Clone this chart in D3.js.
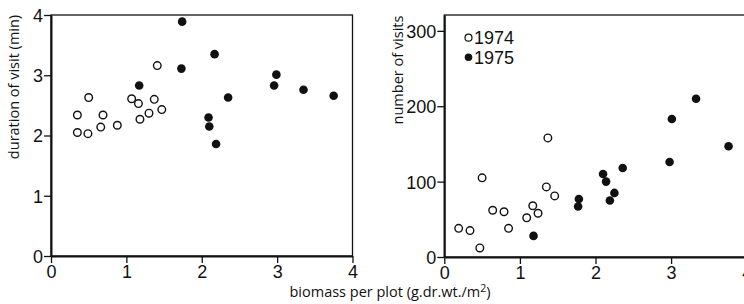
<!DOCTYPE html>
<html><head><meta charset="utf-8">
<script src="https://cdn.jsdelivr.net/npm/d3@7"></script>
<style>
body{margin:0;background:#fff;}
svg{display:block;}
.tick text{font-family:"Liberation Sans",Arial,sans-serif;font-size:18px;fill:#111;}
.title{font-family:"Open Sans","DejaVu Sans",sans-serif;font-size:14.5px;fill:#111;}
</style></head>
<body>
<script>
// Duration of visit (min) vs biomass
const dur1974_x = [0.35,0.35,0.50,0.49,0.69,0.66,0.88,1.07,1.16,1.18,1.30,1.37,1.47,1.41];
const dur1974_y = [2.34,2.05,2.63,2.03,2.34,2.14,2.17,2.61,2.53,2.27,2.37,2.60,2.43,3.16];
const dur1975_x = [1.17,1.74,1.73,2.17,2.09,2.10,2.19,2.35,2.96,2.99,3.35,3.75];
const dur1975_y = [2.83,3.89,3.11,3.35,2.30,2.15,1.86,2.63,2.83,3.01,2.76,2.66];
// Number of visits vs biomass
const vis1974_x = [0.19,0.34,0.47,0.50,0.64,0.79,0.85,1.09,1.17,1.24,1.35,1.37,1.46];
const vis1974_y = [38,35,12,105,62,60,38,52,68,58,93,158,81];
const vis1975_x = [1.18,1.78,1.77,2.10,2.14,2.25,2.19,2.36,2.98,3.01,3.33,3.76];
const vis1975_y = [28,77,67,110,100,85,75,118,126,183,210,147];

const xTicks = [0,1,2,3,4];
const durTicks = [0,1,2,3,4];
const visTicks = [0,100,200,300];
const legendLabels = ["1974","1975"];

const W = 744, H = 304;
const svg = d3.select("body").append("svg").attr("width",W).attr("height",H);
const ink = "#111";

function panel(cfg){
  const x = d3.scaleLinear().domain([0,4]).range([cfg.x0,cfg.x1]);
  const y = d3.scaleLinear().domain(cfg.ydom).range([cfg.y0,cfg.y1]);
  const g = svg.append("g");
  g.append("rect").attr("x",cfg.x0).attr("y",cfg.y1)
    .attr("width",cfg.x1-cfg.x0).attr("height",cfg.y0-cfg.y1)
    .attr("fill","none").attr("stroke",ink).attr("stroke-width",1.3);
  const xa = g.append("g").attr("transform",`translate(0,${cfg.y0})`)
    .call(d3.axisBottom(x).tickValues(xTicks).tickFormat(d3.format("d")).tickSize(7).tickSizeOuter(0).tickPadding(2));
  const ya = g.append("g").attr("transform",`translate(${cfg.x0},0)`)
    .call(d3.axisLeft(y).tickValues(cfg.yticks).tickFormat(d3.format("d")).tickSize(7).tickSizeOuter(0).tickPadding(1));
  [xa,ya].forEach(a=>{
    a.select(".domain").attr("stroke",ink).attr("stroke-width",2);
    a.selectAll(".tick line").attr("stroke",ink).attr("stroke-width",1.3);
  });
  ya.selectAll(".tick text").attr("dy","0.36em");
  const open = cfg.ox.map((v,i)=>[v,cfg.oy[i]]);
  const fill = cfg.fx.map((v,i)=>[v,cfg.fy[i]]);
  g.selectAll("circle.o").data(open).enter().append("circle")
    .attr("cx",d=>x(d[0])).attr("cy",d=>y(d[1])).attr("r",3.8)
    .attr("fill","#fff").attr("stroke",ink).attr("stroke-width",1.4);
  g.selectAll("circle.f").data(fill).enter().append("circle")
    .attr("cx",d=>x(d[0])).attr("cy",d=>y(d[1])).attr("r",4.3)
    .attr("fill",ink);
  g.append("text").attr("class","title")
    .attr("transform",`translate(${cfg.tx},${cfg.ty}) rotate(-90)`)
    .attr("text-anchor","middle").text(cfg.title);
  return {x,y,g};
}

panel({x0:51,x1:352.5,y0:256,y1:15,ydom:[0,4],yticks:durTicks,
  ox:dur1974_x,oy:dur1974_y,fx:dur1975_x,fy:dur1975_y,
  title:"duration of visit (min)",tx:19,ty:87});
panel({x0:444.3,x1:746.7,y0:257,y1:15,ydom:[0,321],yticks:visTicks,
  ox:vis1974_x,oy:vis1974_y,fx:vis1975_x,fy:vis1975_y,
  title:"number of visits",tx:403,ty:70});

const lg = svg.append("g");
legendLabels.forEach((t,i)=>{
  const cy = 37.7 + i*19.6;
  lg.append("circle").attr("cx",468.5).attr("cy",cy).attr("r",i?3.8:3.5)
    .attr("fill",i?ink:"#fff").attr("stroke",ink).attr("stroke-width",i?0:1.2);
  lg.append("text").attr("x",474).attr("y",cy).attr("dy","0.36em")
    .style("font-family","Liberation Sans,Arial,sans-serif").style("font-size","18px")
    .attr("fill",ink).text(t);
});

const xt = svg.append("text").attr("class","title").attr("x",390).attr("y",297)
  .attr("text-anchor","middle");
xt.append("tspan").text("biomass per plot (g.dr.wt./m");
xt.append("tspan").attr("dy",-5).style("font-size","10.5px").text("2");
xt.append("tspan").attr("dy",5).text(")");
</script>
</body></html>
